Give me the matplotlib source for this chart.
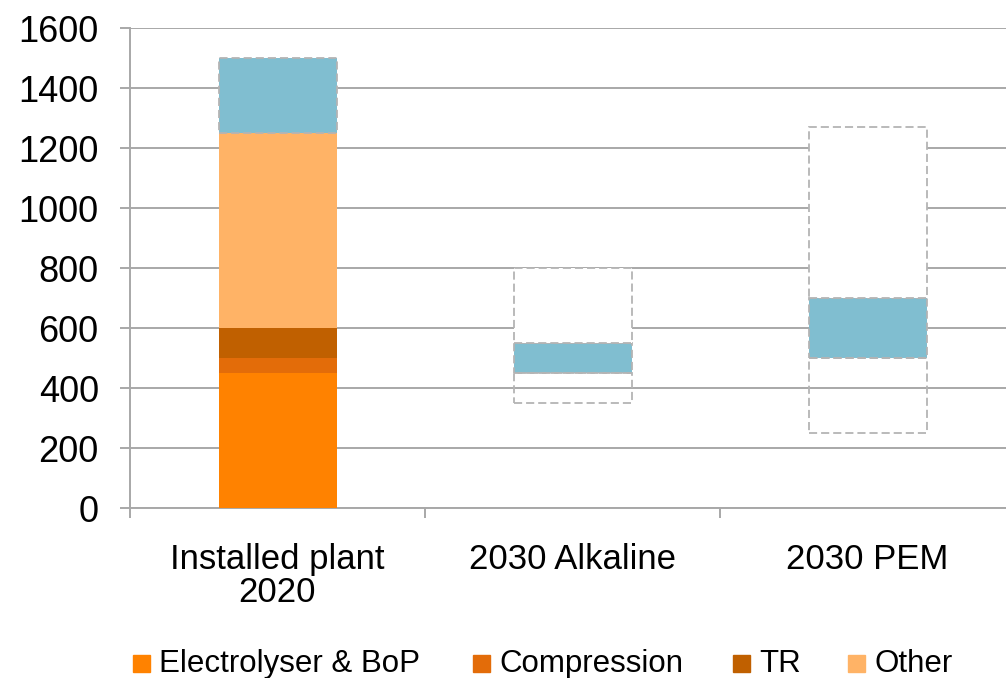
import matplotlib
matplotlib.use("Agg")
import matplotlib.pyplot as plt
from matplotlib.patches import Rectangle

plt.rcParams["font.family"] = ["Liberation Sans", "DejaVu Sans"]

# Categories and cost components (USD/kW)
categories = ["Installed plant\n2020", "2030 Alkaline", "2030 PEM"]
electrolyser = [450, 0, 0]
compression = [50, 0, 0]
tr = [100, 0, 0]
other = [650, 0, 0]

# Central cost band and surrounding uncertainty range
band_low = [1250, 450, 500]
band_high = [1500, 550, 700]
range_low = [None, 350, 250]
range_high = [None, 800, 1270]

series_names = ["Electrolyser & BoP", "Compression", "TR", "Other"]
series_colors = ["#FF8200", "#E36C09", "#C06000", "#FFB366"]
band_color = "#80BED0"
dash_color = "#B4B4B4"
grid_color = "#A8A8A8"

W, H = 1006, 678
fig = plt.figure(figsize=(W / 100, H / 100), dpi=100)
ax = fig.add_axes([130 / W, 1 - 508 / H, 885 / W, 480 / H])

x = list(range(len(categories)))
width = 0.4

# stacked components
bottom = [0] * len(x)
for vals, col in zip([electrolyser, compression, tr, other], series_colors):
    ax.bar(x, vals, width, bottom=bottom, color=col, edgecolor="none", zorder=3)
    bottom = [b + v for b, v in zip(bottom, vals)]

dash = (0, (4.5, 2.2))
lw_dash = 1.3
# central band
ax.bar(x, [h - l for l, h in zip(band_low, band_high)], width, bottom=band_low,
       color=band_color, edgecolor=dash_color, linewidth=lw_dash, linestyle=dash, zorder=3)

# uncertainty range: open box below the band, white box above it
for i in x:
    if range_low[i] is None:
        continue
    ax.bar(i, band_low[i] - range_low[i], width, bottom=range_low[i],
           facecolor="none", edgecolor=dash_color, linewidth=lw_dash, linestyle=dash, zorder=4)
    ax.bar(i, range_high[i] - band_high[i], width, bottom=band_high[i],
           facecolor="white", edgecolor=dash_color, linewidth=lw_dash, linestyle=dash, zorder=4)

ax.set_xlim(-0.5, 2.5)
ax.set_ylim(0, 1600)
ax.set_yticks(range(0, 1601, 200))
ax.yaxis.grid(True, color=grid_color, linewidth=1.4)
ax.set_axisbelow(True)

# category boundaries as major ticks, labels on minor ticks
ax.set_xticks([-0.5, 0.5, 1.5, 2.5])
ax.set_xticklabels([])
ax.set_xticks(x, minor=True)
ax.set_xticklabels(categories, minor=True, fontsize=25, linespacing=1.0)
ax.tick_params(axis="x", which="minor", length=0, pad=25)
ax.tick_params(axis="x", which="major", length=7.5, width=1.4, color=grid_color, direction="out")
ax.tick_params(axis="y", length=7.5, width=1.4, color=grid_color, labelsize=26, pad=15)

for s in ["top", "right"]:
    ax.spines[s].set_visible(False)
for s in ["left", "bottom"]:
    ax.spines[s].set_color(grid_color)
    ax.spines[s].set_linewidth(1.4)
ax.spines["left"].set_bounds(0, 1600)

# legend row along the bottom edge
legend_x = [133, 473, 733, 848]
for name, col, lx in zip(series_names, series_colors, legend_x):
    fig.patches.append(Rectangle((lx / W, 1 - 672 / H), 17 / W, 17 / H,
                                 transform=fig.transFigure, color=col))
    fig.text((lx + 26) / W, 1 - 664 / H, name, fontsize=22.5, va="center", ha="left")

fig.savefig("out.png", dpi=100)
